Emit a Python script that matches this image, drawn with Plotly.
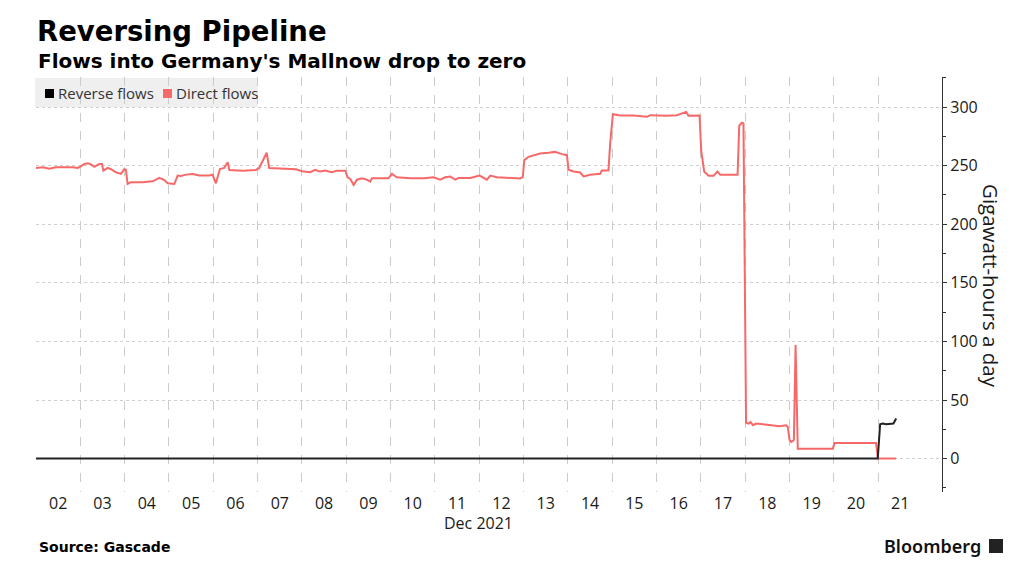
import pandas as pd
import plotly.graph_objects as go

# ---- data (hours since 2021-12-02 00:00, values in GWh/day) ----
direct_hours = [0, 3.6, 7.2, 10.8, 19.8, 22.6, 23.8, 26.2, 28.0, 29.8, 31.6, 34.3, 35.7, 36.5, 38.8,
                40.6, 43.3, 46.0, 47.8, 48.7, 49.6, 51.4, 57.7, 63.2, 66.8, 69.5, 71.3, 74.9, 76.7,
                78.5, 81.2, 84.8, 88.4, 93.8, 95.6, 97.4, 99.6, 101.9, 103.8, 104.7, 111.9, 119.1,
                120.9, 123.6, 124.9, 126.3, 133.5, 140.8,
                144.0, 148.5, 151.2, 153.9, 156.6, 160.2, 163.0, 167.5, 168.7, 170.2, 172.0, 173.8,
                176.5, 179.2, 181.0, 181.9, 186.4, 190.9, 192.7, 195.4, 202.7, 209.9, 215.3, 218.9,
                221.6, 224.3, 227.0, 228.8, 235.2, 240.2, 244.2, 246.0, 249.6, 256.8, 262.2, 263.6,
                264.4, 266.7, 269.4, 273.0, 277.5, 281.1, 284.8, 287.5, 288.4, 291.1, 294.7, 296.5,
                300.1, 305.5, 306.4, 310.0, 310.9, 312.4, 316.3, 323.6, 330.8, 332.6, 341.6, 347.0,
                352.1, 353.3, 359.3, 360.2, 361.8, 364.2, 366.9, 369.0, 370.5, 375.9, 379.9, 380.8,
                382.2, 383.1, 384.5, 386.0, 386.9, 388.2, 390.0, 393.6, 399.0, 402.6, 406.2, 407.1,
                408.0, 408.9, 409.8, 410.4, 411.3, 412.1, 412.5, 431.5, 432.4, 454.9, 455.9, 465.8]
direct_values = [248, 248.6, 247.4, 248.6, 248.6, 248, 249, 251.4, 252, 251, 249, 251.4, 251.4, 245.7, 248,
                 247, 244.3, 242.9, 246.9, 246.5, 234.3, 235.8, 235.8, 236.6, 239.5, 237.7, 234.9, 234.3, 241.5,
                 241.2, 242.3, 242.9, 241.5, 241.5, 242.3, 234.9, 247.1, 248, 252.8, 246.3, 245.7, 246.3,
                 248, 257, 261, 248, 247.4, 246.9,
                 245.2, 244.3, 246.3, 244.9, 245.7, 244.3, 245.7, 245.7, 240, 238.6, 233.5, 238,
                 239.2, 238, 236.3, 239.2, 239.2, 239.2, 242.9, 240, 239.2, 239.2, 240, 238,
                 240, 240.6, 238, 239.5, 239.5, 241.5, 238, 241.5, 240, 239.5, 239.1, 240.2,
                 254.7, 257.5, 258.9, 260.3, 260.9, 261.7, 259.8, 258.9, 246.4, 245, 244.1, 240.8,
                 242.2, 243, 245.8, 245.8, 268.7, 293.9, 292.7, 292.7, 291.6, 293, 292.5, 293,
                 295.8, 292.5, 292.7, 263, 245, 241.3, 241.3, 245, 242.2, 242.5, 242.2, 284,
                 286.6, 286, 30.5, 29.9, 31.3, 28.5, 29.9, 29.3, 28.5, 27.6, 28.5, 27,
                 16.2, 14.2, 15.1, 16, 97, 10, 8.5, 8.5, 13.4, 13.4, 0, 0]

reverse_hours = [0, 455.8, 457.1, 458.5, 460.3, 463.0, 464.3, 465.8]
reverse_values = [0, 0, 29.3, 29.9, 29.3, 29.9, 29.9, 34.2]

day_labels = ["02", "03", "04", "05", "06", "07", "08", "09", "10", "11",
              "12", "13", "14", "15", "16", "17", "18", "19", "20", "21"]

series_names = ["Reverse flows", "Direct flows"]

base = pd.Timestamp("2021-12-02 00:00")
direct_x = base + pd.to_timedelta(direct_hours, unit="h")
reverse_x = base + pd.to_timedelta(reverse_hours, unit="h")
label_pos = [base + pd.Timedelta(days=i, hours=12) for i in range(len(day_labels))]
grid_pos = [base + pd.Timedelta(days=i) for i in range(len(day_labels))]

RED = "#f76868"
BLACK = "#222222"
TXT = "#1a1a1a"

fig = go.Figure()
fig.add_trace(go.Scatter(x=direct_x, y=direct_values, mode="lines", name=series_names[1],
                         line=dict(color=RED, width=2), showlegend=False))
fig.add_trace(go.Scatter(x=reverse_x, y=reverse_values, mode="lines", name=series_names[0],
                         line=dict(color=BLACK, width=2), showlegend=False))

L, R, T, B = 36, 82, 77, 88
W, H = 1024, 580
pw, ph = W - L - R, H - T - B


def px(xp):
    return (xp - L) / pw


def py(yp):
    return (H - B - yp) / ph


fig.update_layout(
    width=W, height=H,
    margin=dict(l=L, r=R, t=T, b=B),
    paper_bgcolor="white", plot_bgcolor="white",
    font=dict(family="Open Sans", color=TXT),
    showlegend=False,
    xaxis=dict(
        type="date",
        range=[base, base + pd.Timedelta(hours=490.6)],
        tickmode="array", tickvals=label_pos, ticktext=day_labels,
        showgrid=False, zeroline=False, showline=False, ticks="",
        tickfont=dict(size=16, color=TXT),
        minor=dict(tickmode="array", tickvals=grid_pos, showgrid=True, griddash="dash",
                   gridcolor="#cccccc", gridwidth=1, ticks=""),
    ),
    yaxis=dict(
        side="right", range=[-28.5, 325.6], tickmode="linear", tick0=0, dtick=50,
        showgrid=True, gridcolor="#cfcfcf", griddash="dot", gridwidth=1,
        zeroline=False, showline=True, linecolor="#333333", linewidth=1.2,
        ticks="outside", ticklen=4, tickcolor="#333333",
        tickfont=dict(size=16, color=TXT),
        minor=dict(dtick=25, tick0=0, ticks="outside", ticklen=3, tickcolor="#333333", showgrid=False),
    ),
)

ann = [
    dict(text="<b>Reversing Pipeline</b>", x=px(35), y=py(31), xanchor="left", yanchor="middle",
         font=dict(size=27.5, family="DejaVu Sans", color="#000000")),
    dict(text="<b>Flows into Germany's Mallnow drop to zero</b>", x=px(36), y=py(61), xanchor="left",
         yanchor="middle", font=dict(size=20, family="DejaVu Sans", color="#000000")),
    dict(text="Gigawatt-hours a day", x=px(991), y=py(286), textangle=90, xanchor="center",
         yanchor="middle", font=dict(size=20.5, family="Open Sans", color=TXT)),
    dict(text="Dec 2021", x=px(478), y=py(523), xanchor="center", yanchor="middle",
         font=dict(size=16, family="Open Sans", color=TXT)),
    dict(text="<b>Source: Gascade</b>", x=px(37), y=py(547), xanchor="left", yanchor="middle",
         font=dict(size=14, family="DejaVu Sans", color="#000000")),
    dict(text="Bloomberg", x=px(983), y=py(546), xanchor="right", yanchor="middle",
         font=dict(size=18, family="Noto Sans", color="#111111", weight=600)),
    # legend texts
    dict(text=series_names[0], x=px(56), y=py(93), xanchor="left", yanchor="middle",
         font=dict(size=15, family="Open Sans", color="#333333")),
    dict(text=series_names[1], x=px(174), y=py(93), xanchor="left", yanchor="middle",
         font=dict(size=15, family="Open Sans", color="#333333")),
]
for a in ann:
    a.update(xref="paper", yref="paper", showarrow=False)
fig.update_layout(annotations=ann)

shapes = [
    # legend background and swatches
    dict(type="rect", x0=px(35), x1=px(258), y0=py(107), y1=py(78), fillcolor="#efefef",
         line=dict(width=0), layer="below"),
    dict(type="rect", x0=px(45), x1=px(54), y0=py(98), y1=py(89), fillcolor="#000000", line=dict(width=0)),
    dict(type="rect", x0=px(163), x1=px(172), y0=py(98), y1=py(89), fillcolor=RED, line=dict(width=0)),
    # Bloomberg mark
    dict(type="rect", x0=px(989), x1=px(1003), y0=py(553), y1=py(539), fillcolor="#222222",
         line=dict(width=0)),
]
for s in shapes:
    s.update(xref="paper", yref="paper")
fig.update_layout(shapes=shapes)

fig.write_html("out.html")
